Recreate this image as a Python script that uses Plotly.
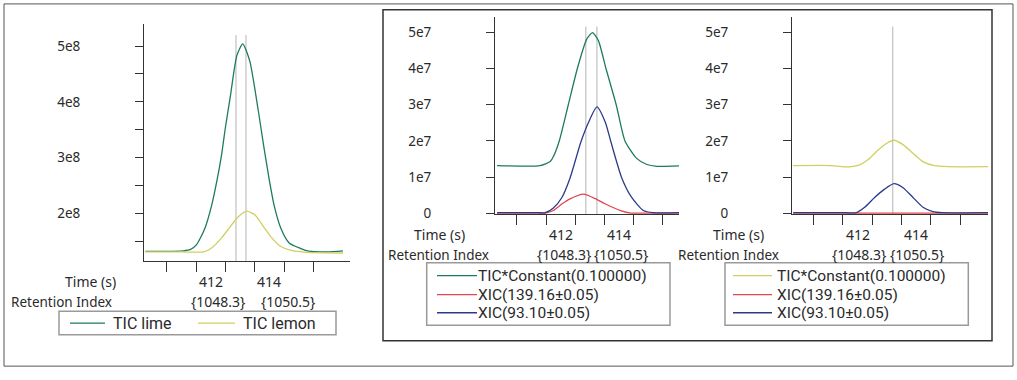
import plotly.graph_objects as go

W, H = 1017, 380


def px(x):
    return x / W


def py(y):
    return 1 - y / H


# ---------------- data ----------------
# Left panel: TIC of lime / lemon
lime_t = [409.78, 410.5, 411.07, 411.3, 411.52, 411.8, 412.03, 412.22, 412.37, 412.5, 412.66,
          412.89, 413.09, 413.33, 413.62, 413.8, 413.99, 414.16, 414.39, 414.67, 415.07, 415.29,
          415.97, 416.5]
lime_v = [1.32e8, 1.32e8, 1.33e8, 1.35e8, 1.44e8, 1.73e8, 2.14e8, 2.61e8, 3.05e8, 3.54e8, 4.07e8,
          4.83e8, 5.04e8, 4.73e8, 3.84e8, 3.22e8, 2.61e8, 2.14e8, 1.73e8, 1.47e8, 1.37e8, 1.33e8,
          1.31e8, 1.33e8]
lemon_t = [409.78, 411.0, 411.76, 412.03, 412.37, 412.66, 412.94, 413.23, 413.51, 413.8, 414.08,
           414.37, 414.71, 415.29, 416.5]
lemon_v = [1.31e8, 1.31e8, 1.31e8, 1.38e8, 1.56e8, 1.76e8, 1.94e8, 2.04e8, 1.97e8, 1.76e8, 1.56e8,
           1.41e8, 1.34e8, 1.30e8, 1.29e8]

# Middle panel: lime
mid_tic_t = [409.82, 411.29, 411.64, 411.75, 411.95, 412.26, 412.57, 412.89, 413.09, 413.29, 413.55,
             413.9, 414.2, 414.6, 414.95, 415.29, 416.05]
mid_tic_v = [1.32e7, 1.32e7, 1.43e7, 1.57e7, 2.0e7, 3.0e7, 4.0e7, 4.81e7, 4.99e7, 4.77e7, 4.0e7,
             3.0e7, 2.0e7, 1.52e7, 1.35e7, 1.30e7, 1.31e7]
mid_x139_t = [409.82, 411.2, 411.47, 411.75, 412.04, 412.32, 412.78, 413.2, 413.53, 414.05, 414.4,
              415.0, 416.05]
mid_x139_v = [1e5, 1e5, 1e5, 8e5, 2.6e6, 4.0e6, 5.3e6, 4.0e6, 2.6e6, 8e5, 1e5, 1e5, 1e5]
mid_x93_t = [409.82, 411.2, 411.47, 411.75, 412.04, 412.32, 412.69, 412.95, 413.24, 413.53, 413.72,
             414.09, 414.43, 414.83, 415.17, 416.05]
mid_x93_v = [2e5, 2e5, 2e5, 1.5e6, 4.4e6, 9.8e6, 1.97e7, 2.51e7, 2.94e7, 2.51e7, 1.97e7,
             9.8e6, 4.4e6, 8e5, 2e5, 2e5]

# Right panel: lemon
rt_tic_t = [409.8, 411.1, 411.45, 411.78, 412.07, 412.35, 412.7, 412.98, 413.24, 413.55, 413.89,
            414.23, 414.62, 415.08, 416.45]
rt_tic_v = [1.32e7, 1.32e7, 1.29e7, 1.29e7, 1.34e7, 1.48e7, 1.75e7, 1.93e7, 2.02e7, 1.90e7, 1.66e7,
            1.43e7, 1.32e7, 1.29e7, 1.29e7]
rt_x139_t = [409.8, 411.5, 413.2, 414.9, 416.45]
rt_x139_v = [1e5, 1e5, 1e5, 1e5, 1e5]
rt_x93_t = [409.8, 411.6, 411.95, 412.24, 412.58, 412.92, 413.24, 413.55, 413.89, 414.23, 414.57,
            414.9, 416.45]
rt_x93_v = [2e5, 2e5, 2e5, 1.7e6, 4.4e6, 6.7e6, 8.2e6, 7.1e6, 4.4e6, 1.7e6, 5e5, 2e5, 2e5]

# ticks / labels
x_tick_vals = [410.5, 411.5, 412.5, 413.5, 414.5, 415.5]
time_labels = [412, 414]
ri_labels = ["{1048.3}", "{1050.5}"]
left_y_vals = [1.5e8, 2e8, 2.5e8, 3e8, 3.5e8, 4e8, 4.5e8, 5e8]
left_y_text = ["", "2e8", "", "3e8", "", "4e8", "", "5e8"]
right_y_vals = [0, 1e7, 2e7, 3e7, 4e7, 5e7]
right_y_text = ["0", "1e7", "2e7", "3e7", "4e7", "5e7"]
markers_left = [412.86, 413.2]
markers_mid = [412.86, 413.24]
markers_right = [413.2]

names_left = ["TIC lime", "TIC lemon"]
names_right = ["TIC*Constant(0.100000)", "XIC(139.16±0.05)", "XIC(93.10±0.05)"]

# ---------------- style ----------------
TEAL = "#1f7a5e"
LEMON = "#d0d060"
RED = "#e2464f"
BLUE = "#2c3b88"
MARK = "#b4b4b4"
AX = "#333333"
TXT = "#2a2a2a"
FONT = "Noto Sans"
LEGFONT = "Roboto"
LW = 1.3

fig = go.Figure()


def add(t, v, name, color, xa, ya):
    fig.add_trace(go.Scatter(x=t, y=v, name=name, mode="lines", xaxis=xa, yaxis=ya,
                             line=dict(color=color, width=LW, shape="spline", smoothing=0.6),
                             showlegend=False, hoverinfo="skip"))


left_colors = [TEAL, LEMON]
mid_colors = [TEAL, RED, BLUE]
right_colors = [LEMON, RED, BLUE]

add(lime_t, lime_v, names_left[0], left_colors[0], "x", "y")
add(lemon_t, lemon_v, names_left[1], left_colors[1], "x", "y")
add(mid_tic_t, mid_tic_v, names_right[0], mid_colors[0], "x2", "y2")
add(mid_x139_t, mid_x139_v, names_right[1], mid_colors[1], "x2", "y2")
add(mid_x93_t, mid_x93_v, names_right[2], mid_colors[2], "x2", "y2")
add(rt_tic_t, rt_tic_v, names_right[0], right_colors[0], "x3", "y3")
add(rt_x139_t, rt_x139_v, names_right[1], right_colors[1], "x3", "y3")
add(rt_x93_t, rt_x93_v, names_right[2], right_colors[2], "x3", "y3")

common = dict(showline=True, linecolor=AX, linewidth=1, ticks="outside", tickcolor=AX, tickwidth=1,
              showgrid=False, zeroline=False, fixedrange=True)
xcommon = dict(tickvals=x_tick_vals, showticklabels=False, ticklen=10, **common)
ycommon = dict(ticklen=8, ticklabelstandoff=52, tickfont=dict(size=13.5, color=TXT, family=FONT), **common)

fig.update_layout(
    width=W, height=H, margin=dict(l=0, r=0, t=0, b=0),
    paper_bgcolor="white", plot_bgcolor="white",
    font=dict(family=FONT, color=TXT, size=14),
    xaxis=dict(domain=[px(144), px(350)], range=[409.73, 416.74], anchor="y", **xcommon),
    yaxis=dict(domain=[py(267), py(25)], range=[1.14e8, 5.386e8], anchor="x",
               tickvals=left_y_vals, ticktext=left_y_text, **ycommon),
    xaxis2=dict(domain=[px(495), px(679)], range=[409.75, 416.05], anchor="y2", **xcommon),
    yaxis2=dict(domain=[py(218.7), py(17)], range=[-1.9e5, 5.432e7], anchor="x2",
                tickvals=right_y_vals, ticktext=right_y_text, **ycommon),
    xaxis3=dict(domain=[px(792), px(988)], range=[409.76, 416.45], anchor="y3", **xcommon),
    yaxis3=dict(domain=[py(218.7), py(17)], range=[-1.9e5, 5.432e7], anchor="x3",
                tickvals=right_y_vals, ticktext=right_y_text, **ycommon),
    showlegend=False,
)

shapes = []
ann = []


def text(s, x, y, xref="paper", size=14, xanchor="center", family=FONT):
    ann.append(dict(text=s, x=x, y=y, xref=xref, yref="paper", showarrow=False, xanchor=xanchor,
                    yanchor="middle", borderpad=0, font=dict(size=size, color=TXT, family=family)))


def hline(x0, x1, y, color, width=LW):
    shapes.append(dict(type="line", xref="paper", yref="paper", x0=px(x0), x1=px(x1), y0=py(y), y1=py(y),
                       line=dict(color=color, width=width)))


def box(x0, x1, y0, y1, color, width):
    shapes.append(dict(type="rect", xref="paper", yref="paper", x0=px(x0), x1=px(x1), y0=py(y1), y1=py(y0),
                       line=dict(color=color, width=width)))


# frames
box(4, 1013, 4, 374, "#555555", 1)
box(383, 992, 10, 348, "#333333", 1.5)

# marker lines
for m in markers_left:
    shapes.append(dict(type="line", xref="x", yref="y domain", x0=m, x1=m, y0=0, y1=0.955,
                       line=dict(color=MARK, width=1), layer="below"))
for m in markers_mid:
    shapes.append(dict(type="line", xref="x2", yref="y2 domain", x0=m, x1=m, y0=0, y1=0.95,
                       line=dict(color=MARK, width=1), layer="below"))
for m in markers_right:
    shapes.append(dict(type="line", xref="x3", yref="y3 domain", x0=m, x1=m, y0=0, y1=0.95,
                       line=dict(color=MARK, width=1), layer="below"))

# legends (drawn as boxes + sample lines + text)
box(59, 336, 318, 342, "#9a9a9a", 1.5)
for (lx0, lx1, tx), name, col in zip([(70, 105, 112), (198, 235, 242)], names_left, left_colors):
    hline(lx0, lx1, 330, col)
    text(name, px(tx), py(330), size=16, xanchor="left", family=LEGFONT)

box(426.7, 670, 268.3, 332.3, "#9a9a9a", 1.5)
for yy, name, col in zip([281.5, 301, 319.5], names_right, mid_colors):
    hline(437, 477, yy, col)
    text(name, px(477), py(yy), size=15.5, xanchor="left", family=LEGFONT)

box(725, 968.3, 268.3, 332.3, "#9a9a9a", 1.5)
for yy, name, col in zip([281.5, 301, 319.5], names_right, right_colors):
    hline(733, 772, yy, col)
    text(name, px(776), py(yy), size=15.5, xanchor="left", family=LEGFONT)

# left panel labels
text("Time (s)", px(90), py(288))
for v in time_labels:
    text(str(v), v, py(288), xref="x")
text("Retention Index", px(10), py(308), size=13.5, xanchor="left")
text(ri_labels[0], px(218), py(308))
text(ri_labels[1], px(288), py(308))
# middle panel labels
text("Time (s)", px(439), py(240))
for v in time_labels:
    text(str(v), v, py(240), xref="x2")
text("Retention Index", px(386.7), py(260), size=13.5, xanchor="left")
text(ri_labels[0], px(563.7), py(260))
text(ri_labels[1], px(621), py(260))
# right panel labels
text("Time (s)", px(738), py(240))
for v in time_labels:
    text(str(v), v, py(240), xref="x3")
text("Retention Index", px(677), py(260), size=13.5, xanchor="left")
text(ri_labels[0], px(859), py(260))
text(ri_labels[1], px(916.5), py(260))

fig.update_layout(shapes=shapes, annotations=ann)

fig.write_html(
    "out.html",
    config={"displayModeBar": False},
    post_script=("var gd=document.getElementById('{plot_id}');"
                 "gd.style.position='fixed';gd.style.left='0px';gd.style.top='0px';"
                 "document.documentElement.style.margin='0';document.body.style.margin='0';"
                 "document.body.style.overflow='hidden';"
                 "document.documentElement.style.overflow='hidden';"),
)
